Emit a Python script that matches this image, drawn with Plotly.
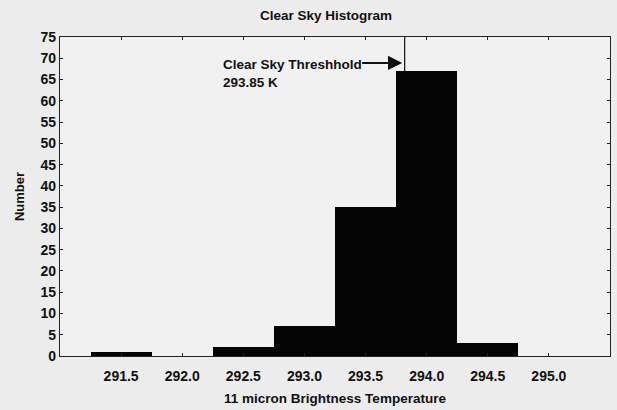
import plotly.graph_objects as go

bin_centers = [291.5, 292.0, 292.5, 293.0, 293.5, 294.0, 294.5, 295.0]
counts = [1, 0, 2, 7, 35, 67, 3, 0]
x_ticks = [291.5, 292.0, 292.5, 293.0, 293.5, 294.0, 294.5, 295.0]
x_tick_labels = ["291.5", "292.0", "292.5", "293.0", "293.5", "294.0", "294.5", "295.0"]
threshold = 293.82
threshold_label = "293.85 K"

FONT = "Liberation Sans, Arial, sans-serif"
BG = "#ececec"
INK = "#111111"

fig = go.Figure()
fig.add_trace(go.Bar(
    x=bin_centers, y=counts, width=0.5,
    marker=dict(color="#050505", line=dict(width=0)),
    showlegend=False, hoverinfo="skip",
))

fig.add_shape(type="line", xref="x", yref="y",
              x0=threshold, x1=threshold, y0=max(counts), y1=75,
              line=dict(color=INK, width=1.2))

fig.add_annotation(x=threshold - 0.02, y=68.9, ax=293.46, ay=68.9,
                   xref="x", yref="y", axref="x", ayref="y",
                   text="", showarrow=True, arrowhead=2, arrowsize=1.5,
                   arrowwidth=1.9, arrowcolor=INK)
fig.add_annotation(x=292.32, y=68.6, xref="x", yref="y", xanchor="left",
                   text="<b>Clear Sky Threshhold</b>", showarrow=False,
                   font=dict(family=FONT, size=13.5, color=INK))
fig.add_annotation(x=292.32, y=64.4, xref="x", yref="y", xanchor="left",
                   text="<b>" + threshold_label + "</b>", showarrow=False,
                   font=dict(family=FONT, size=13.5, color=INK))

fig.update_layout(
    width=617, height=410,
    margin=dict(l=60, r=7, t=37, b=54, autoexpand=False),
    paper_bgcolor=BG, plot_bgcolor="#f1f1f1",
    bargap=0,
    title=dict(text="<b>Clear Sky Histogram</b>", x=326 / 617, xanchor="center",
               xref="container", y=1 - 15 / 410, yanchor="middle",
               font=dict(family=FONT, size=13.5, color=INK)),
    font=dict(family=FONT, color=INK),
)
fig.update_xaxes(
    range=[291.0, 295.5], tickvals=x_ticks, ticktext=["<b>%s</b>" % t for t in x_tick_labels],
    ticks="inside", ticklen=3, tickcolor="#222222", ticklabelstandoff=7,
    showline=True, linecolor="#222222", linewidth=1.2, mirror="ticks",
    showgrid=False, zeroline=False, automargin=False,
    tickfont=dict(family=FONT, size=14, color=INK),
    title=dict(text="<b>11 micron Brightness Temperature</b>", standoff=10,
               font=dict(family=FONT, size=13.5, color=INK)),
)
fig.update_yaxes(
    range=[0, 75], dtick=5, tickformat="d",
    ticks="inside", ticklen=3, tickcolor="#222222",
    showline=True, linecolor="#222222", linewidth=1.2, mirror="ticks",
    showgrid=False, zeroline=False, automargin=False,
    tickprefix="<b>", ticksuffix="</b>",
    tickfont=dict(family=FONT, size=14, color=INK),
    title=dict(text="<b>Number</b>", standoff=12,
               font=dict(family=FONT, size=13, color=INK)),
)

fig.write_html("out.html", post_script="document.body.style.margin='0';",
               config={"displayModeBar": False})
